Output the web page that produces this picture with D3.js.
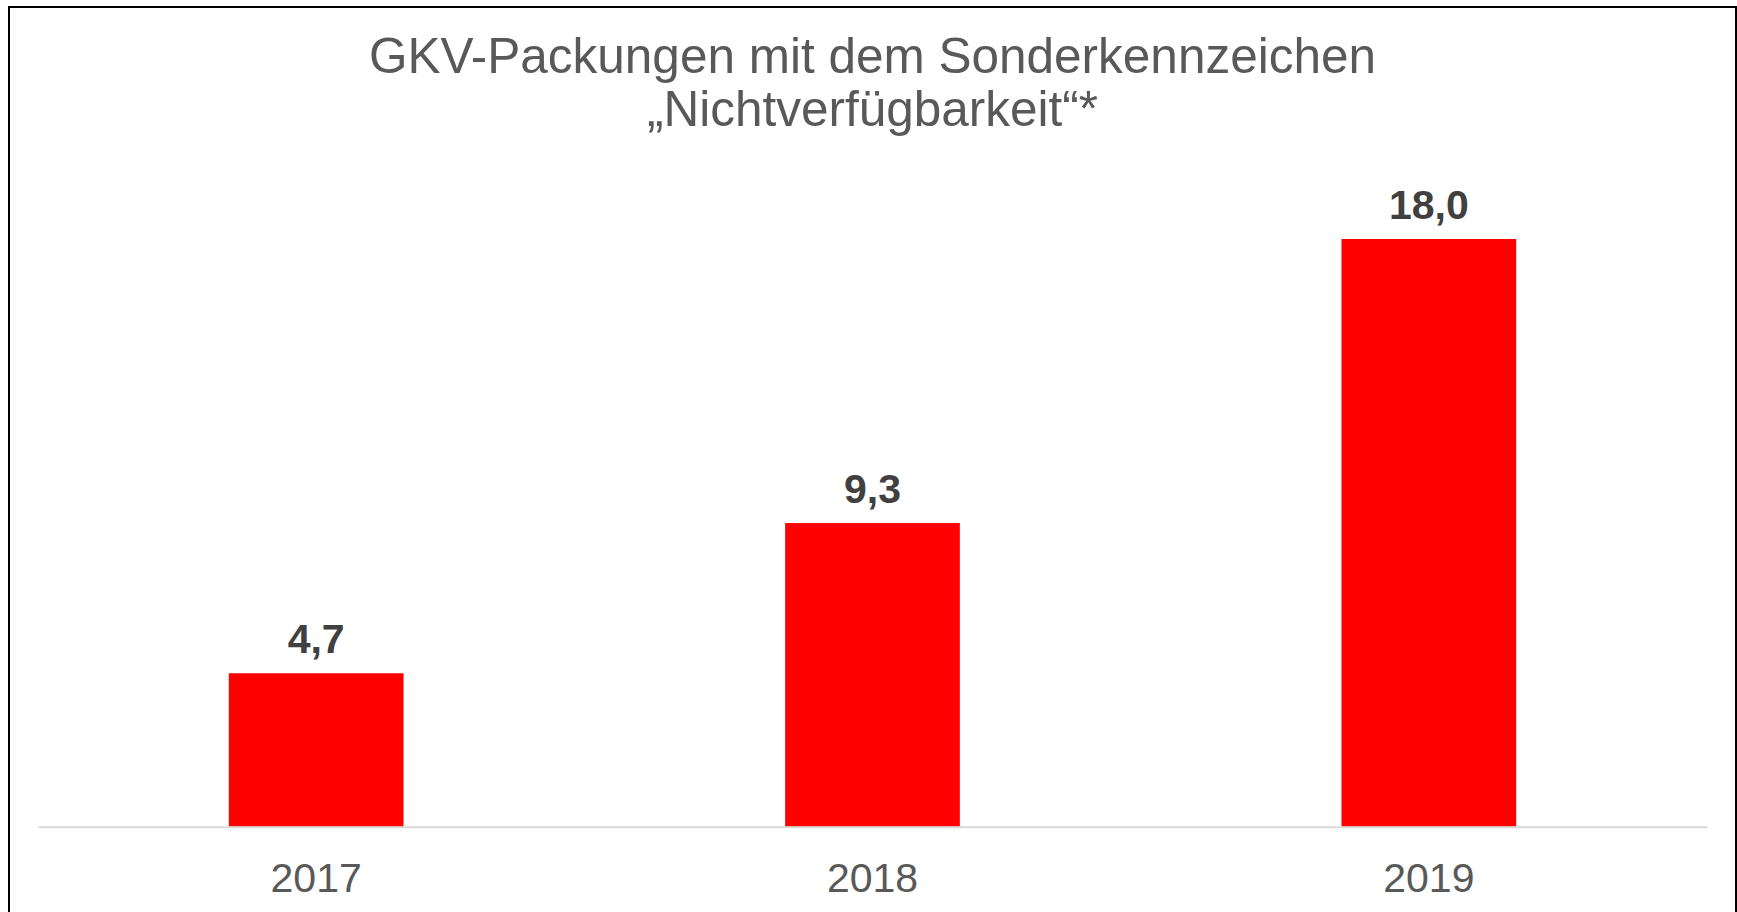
<!DOCTYPE html>
<html>
<head>
<meta charset="utf-8">
<script src="https://cdn.jsdelivr.net/npm/d3@7"></script>
<style>
  html, body { margin: 0; padding: 0; background: #ffffff; }
  svg { display: block; }
  text { font-family: "Liberation Sans", Arial, sans-serif; }
</style>
</head>
<body>
<svg id="chart" width="1737" height="912"></svg>
<script>
const categories = ["2017", "2018", "2019"];
const values = [4.7, 9.3, 18.0];
const valueLabels = ["4,7", "9,3", "18,0"];
const titleLines = ["GKV-Packungen mit dem Sonderkennzeichen", "\u201ENichtverf\u00FCgbarkeit\u201C*"];

const W = 1737, H = 912;
const svg = d3.select("#chart");

// outer frame
svg.append("rect")
  .attr("x", 9).attr("y", 7)
  .attr("width", 1727).attr("height", 940)
  .attr("fill", "none").attr("stroke", "#000").attr("stroke-width", 2);

const plotLeft = 38, plotRight = 1707, baseY = 826.7;

const x = d3.scaleBand()
  .domain(categories)
  .range([plotLeft, plotRight])
  .paddingInner(0.686)
  .paddingOuter(0.343);

const y = d3.scaleLinear()
  .domain([0, 20])
  .range([baseY, baseY - 20 * 32.65]);

// title
const title = svg.append("text")
  .attr("text-anchor", "middle")
  .attr("fill", "#595959")
  .attr("font-size", 49.5);
titleLines.forEach((t, i) => {
  title.append("tspan").attr("x", 872.5).attr("y", 73.3 + i * 53).text(t);
});

// bars
svg.append("g").selectAll("rect")
  .data(values)
  .join("rect")
  .attr("x", (d, i) => x(categories[i]))
  .attr("width", x.bandwidth())
  .attr("y", d => y(d))
  .attr("height", d => y(0) - y(d))
  .attr("fill", "#FF0000");

// baseline axis
const xAxis = d3.axisBottom(x).tickSize(0).tickPadding(0);
const axisG = svg.append("g").attr("transform", `translate(0,${baseY})`).call(xAxis);
axisG.select(".domain").attr("stroke", "#D9D9D9").attr("stroke-width", 2);
axisG.selectAll(".tick text")
  .attr("font-family", "Liberation Sans, Arial, sans-serif")
  .attr("font-size", 41)
  .attr("fill", "#595959")
  .attr("dy", null)
  .attr("y", 65.5);

// value labels
svg.append("g").selectAll("text")
  .data(values)
  .join("text")
  .attr("x", (d, i) => x(categories[i]) + x.bandwidth() / 2)
  .attr("y", d => y(d) - 20.5)
  .attr("text-anchor", "middle")
  .attr("font-size", 41)
  .attr("font-weight", "bold")
  .attr("fill", "#404040")
  .text((d, i) => valueLabels[i]);
</script>
</body>
</html>
